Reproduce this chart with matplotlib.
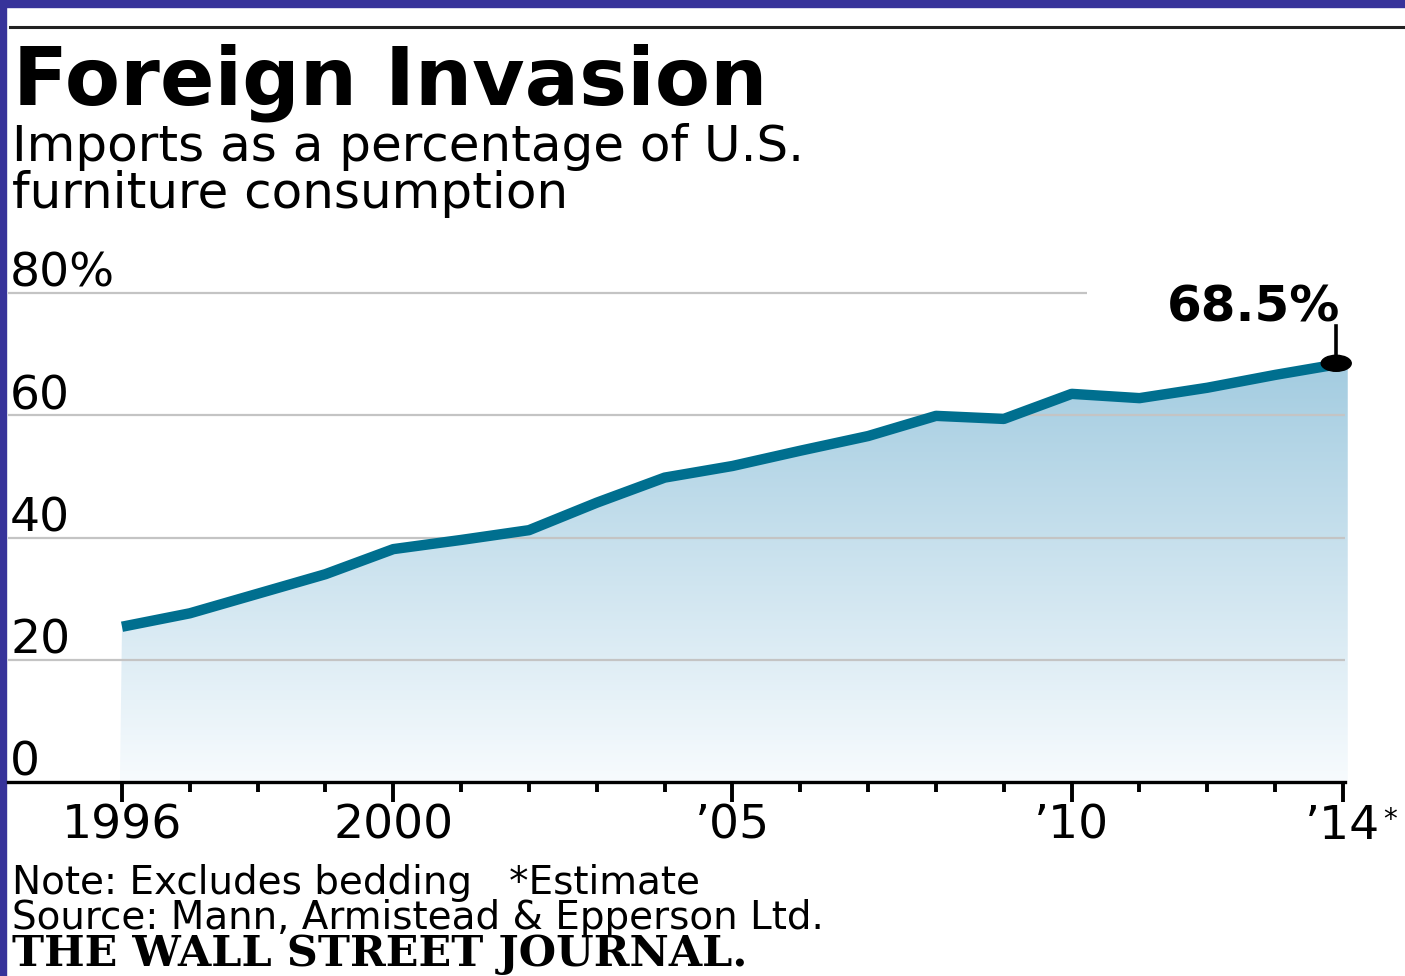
import numpy as np
import matplotlib
matplotlib.use("Agg")
import matplotlib.pyplot as plt
from matplotlib.patches import Polygon, Ellipse, Rectangle
from matplotlib.lines import Line2D

# data
years = list(range(1996, 2015))
import_share = [25.4, 27.6, 30.8, 34.0, 38.1, 39.6, 41.2, 45.7, 49.8, 51.7,
                54.2, 56.6, 59.9, 59.4, 63.5, 62.8, 64.5, 66.6, 68.5]
major_years = [1996, 2000, 2005, 2010, 2014]
major_labels = ["1996", "2000", "\u201905", "\u201910", "\u201914"]
y_grid = [0, 20, 40, 60, 80]
y_labels = ["0", "20", "40", "60", "80%"]

W, H = 1405, 976
fig = plt.figure(figsize=(W / 100, H / 100), dpi=100)
fig.patch.set_facecolor("white")

def fx(px):
    return px / W

def fy(py):
    return 1 - py / H

# blue frame (top and left) and the thin rule under it
fig.add_artist(Rectangle((0, fy(7)), 1, 7 / H, transform=fig.transFigure,
                         color="#37339a", zorder=0))
fig.add_artist(Rectangle((0, 0), 6 / W, 1, transform=fig.transFigure,
                         color="#37339a", zorder=0))
fig.add_artist(Line2D([fx(10), 1], [fy(27), fy(27)], transform=fig.transFigure,
                      color="#222222", lw=2.2))

# headings
fig.text(fx(13), fy(105), "Foreign Invasion", fontsize=58, fontweight="bold",
         family="DejaVu Sans", va="baseline", ha="left")
fig.text(fx(12), fy(161), "Imports as a percentage of U.S.", fontsize=36,
         family="DejaVu Sans", va="baseline", ha="left")
fig.text(fx(12), fy(208), "furniture consumption", fontsize=36,
         family="DejaVu Sans", va="baseline", ha="left")

# chart axes: 1996 at px 122, 2014 at px 1343; 0% at px 782, 20% per 122.25 px
px_year = (1343 - 122) / 18
px_pct = (782 - 293) / 80
x0 = 1996 - (122 - 8) / px_year
x1 = 2014 + (1395 - 1343) / px_year
ytop = (782 - 250) / px_pct
ax = fig.add_axes([fx(8), fy(782), fx(1395) - fx(8), fy(250) - fy(782)])
ax.set_facecolor("none")
for s in ["top", "left", "right"]:
    ax.spines[s].set_visible(False)

grid_end = 2014.03
for v in y_grid[1:]:
    xe = 1996 + (1087 - 122) / px_year if v == 80 else grid_end
    ax.plot([x0, xe], [v, v], color="#c4c4c4", lw=1.6, zorder=2,
            solid_capstyle="butt")

for v, lab in zip(y_grid, y_labels):
    ax.text(x0 + 0.03, v + 1.0, lab, fontsize=34, family="DejaVu Sans",
            va="baseline", ha="left", zorder=5)

# gradient area under the line
verts = ([(years[0] - 0.03, 0)] + list(zip(years, import_share))
         + [(years[-1] + 0.07, import_share[-1]), (years[-1] + 0.07, 0)])
poly = Polygon(verts, closed=True, facecolor="none", edgecolor="none")
ax.add_patch(poly)
top_c = np.array([0.64, 0.80, 0.88])
bot_c = np.array([0.97, 0.985, 0.995])
t = np.linspace(0, 1, 256)[:, None]
grad = bot_c[None, :] * (1 - t) + top_c[None, :] * t
img = ax.imshow(grad[:, None, :], extent=[years[0] - 0.1, years[-1] + 0.2, 0, max(import_share)],
                origin="lower", aspect="auto", zorder=1, interpolation="bilinear")
img.set_clip_path(poly)

ax.plot(years, import_share, color="#006f8f", lw=7.5, zorder=3,
        solid_joinstyle="round", solid_capstyle="butt")

# end-point callout
last_x, last_y = years[-1], import_share[-1]
ax.add_patch(Ellipse((last_x - 0.1, last_y), 30 / px_year, 16 / px_pct,
                     color="black", zorder=4))
ax.plot([last_x - 0.1, last_x - 0.1], [last_y, (782 - 326) / px_pct],
        color="black", lw=2.6, zorder=4)
ax.text(last_x - 0.04, (782 - 322) / px_pct, f"{last_y}%", fontsize=36,
        fontweight="bold", family="DejaVu Sans", ha="right", va="baseline")

# x axis
ax.spines["bottom"].set_bounds(x0, grid_end)
ax.spines["bottom"].set_linewidth(2.4)
ax.set_xticks(major_years)
ax.set_xticklabels(major_labels, fontsize=34, family="DejaVu Sans")
ax.set_xticks(years, minor=True)
ax.tick_params(axis="x", which="major", length=14.5, width=2.8, pad=1,
               direction="out")
ax.tick_params(axis="x", which="minor", length=7.5, width=2.8, direction="out")
ax.set_yticks([])
ax.text(years[-1] + 0.6, -6.2, "*", fontsize=20, family="DejaVu Sans",
        ha="left", va="center")

ax.set_xlim(x0, x1)
ax.set_ylim(0, ytop)

# notes
fig.text(fx(12), fy(894), "Note: Excludes bedding   *Estimate", fontsize=28,
         family="DejaVu Sans", va="baseline", ha="left")
fig.text(fx(12), fy(929), "Source: Mann, Armistead & Epperson Ltd.", fontsize=28,
         family="DejaVu Sans", va="baseline", ha="left")
fig.text(fx(12), fy(966), "THE WALL STREET JOURNAL.", fontsize=31,
         fontweight="bold", family="DejaVu Serif", va="baseline", ha="left")

fig.savefig("out.png", dpi=100)
